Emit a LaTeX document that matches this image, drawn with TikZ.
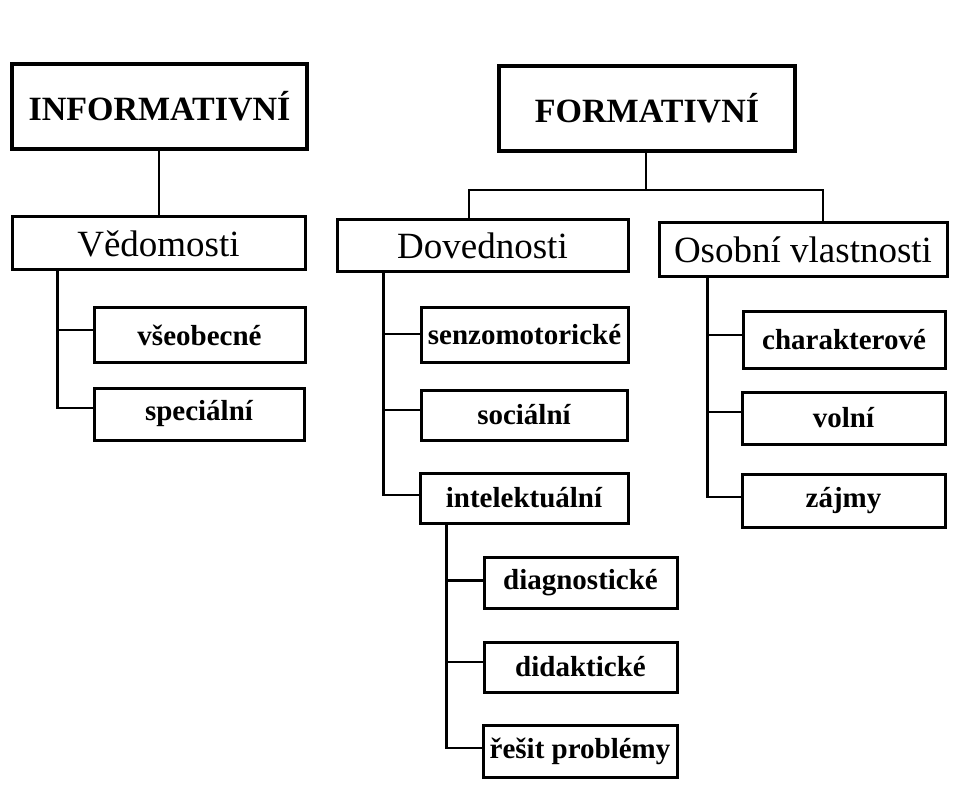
\documentclass[tikz,border=0pt]{standalone}
\usepackage{fontspec}
\setmainfont{Liberation Serif}
\begin{document}
\begin{tikzpicture}[x=1pt,y=-1pt,
  topbox/.style={draw, line width=4pt, inner sep=0pt, font=\bfseries\fontsize{34}{40}\selectfont},
  midbox/.style={draw, line width=3pt, inner sep=0pt, font=\fontsize{37}{42}\selectfont},
  leafbox/.style={draw, line width=3pt, inner sep=0pt, font=\bfseries\fontsize{29}{33}\selectfont},
  conn/.style={line width=2.8pt}]
\useasboundingbox (0,0) rectangle (955,799);
% top level
\node[topbox, minimum width=295pt, minimum height=85pt] (inf) at (159.5,106.5) {INFORMATIVNÍ};
\node[topbox, minimum width=296pt, minimum height=85pt] (form) at (647,108.5) {FORMATIVNÍ};
% second level
\node[midbox, minimum width=293pt, minimum height=53pt] (ved) at (158.5,243.5) {Vědomosti};
\node[midbox, minimum width=291pt, minimum height=52pt] (dov) at (482.5,246) {Dovednosti};
\node[midbox, minimum width=288pt, minimum height=54pt] (oso) at (803,250) {Osobní vlastnosti};
% leaves
\node[leafbox, minimum width=211pt, minimum height=54pt] (vse) at (199.5,335) {všeobecné};
\node[leafbox, minimum width=210pt, minimum height=52pt] (spe) at (199,414) {speciální};
\node[leafbox, minimum width=207pt, minimum height=54pt] (sen) at (524.5,335) {senzomotorické};
\node[leafbox, minimum width=206pt, minimum height=50pt] (soc) at (524,415) {sociální};
\node[leafbox, minimum width=208pt, minimum height=50pt] (int) at (524,498) {intelektuální};
\node[leafbox, minimum width=202pt, minimum height=56pt] (cha) at (844,340) {charakterové};
\node[leafbox, minimum width=203pt, minimum height=52pt] (vol) at (843.5,418) {volní};
\node[leafbox, minimum width=203pt, minimum height=53pt] (zaj) at (843.5,501) {zájmy};
\node[leafbox, minimum width=193pt, minimum height=51pt] (dia) at (580.5,582.5) {diagnostické};
\node[leafbox, minimum width=193pt, minimum height=50pt] (did) at (580.5,667) {didaktické};
\node[leafbox, minimum width=194pt, minimum height=52pt] (res) at (580,751) {řešit problémy};
% connectors
\coordinate (bar) at (646,190);
\draw[conn] ([xshift=-0.5pt]inf.south) -- ([xshift=-0.5pt]inf.south |- ved.north);
\draw[conn] ([xshift=-1pt]form.south) -- (bar);
\draw[conn] ([xshift=-13.5pt]dov.north) |- (bar) -| ([xshift=20pt]oso.north);
% Vedomosti
\draw[conn] ([xshift=47pt]ved.south west) |- ([yshift=5pt]vse.west);
\draw[conn] ([xshift=47pt]ved.south west) |- ([yshift=6pt]spe.west);
% Dovednosti
\draw[conn] ([xshift=48pt]dov.south west) |- ([yshift=1pt]sen.west);
\draw[conn] ([xshift=48pt]dov.south west) |- ([yshift=5pt]soc.west);
\draw[conn] ([xshift=48pt]dov.south west) |- ([yshift=3pt]int.west);
% Osobni vlastnosti
\draw[conn] ([xshift=50pt]oso.south west) |- ([yshift=5pt]cha.west);
\draw[conn] ([xshift=50pt]oso.south west) |- ([yshift=6pt]vol.west);
\draw[conn] ([xshift=50pt]oso.south west) |- ([yshift=4pt]zaj.west);
% intelektualni
\draw[conn] ([xshift=28pt]int.south west) |- ([yshift=2pt]dia.west);
\draw[conn] ([xshift=28pt]int.south west) |- ([yshift=5pt]did.west);
\draw[conn] ([xshift=28pt]int.south west) |- ([yshift=3pt]res.west);
\end{tikzpicture}
\end{document}
